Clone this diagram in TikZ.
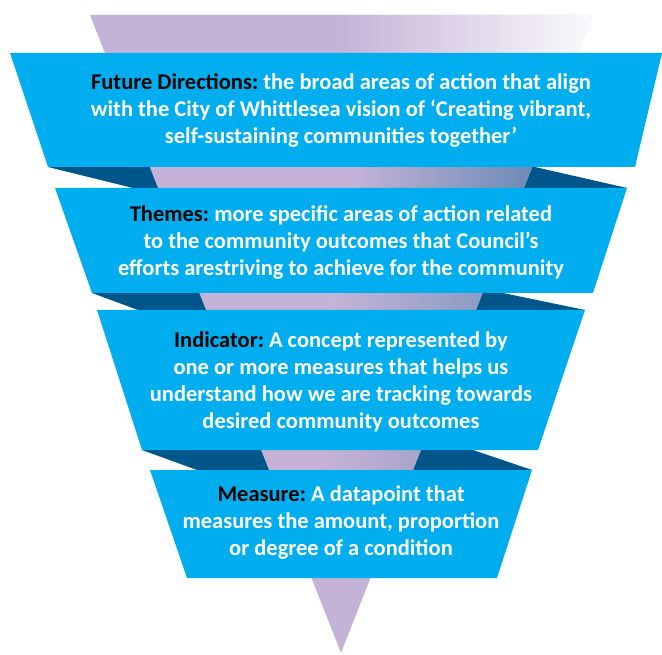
\documentclass[tikz,border=0pt]{standalone}
\usepackage{fontspec}
\setmainfont{Carlito}
\definecolor{bandblue}{HTML}{00AEEF}
\definecolor{folddark}{HTML}{00558B}
\definecolor{lav}{HTML}{C5B3D7}
\definecolor{steelA}{HTML}{6B89B4}
\definecolor{steelB}{HTML}{8B9CC3}
\definecolor{steelC}{HTML}{A9A4CA}
\definecolor{labelblack}{HTML}{050505}
\begin{document}
\frenchspacing
\begin{tikzpicture}[x=1pt,y=-1pt,
  band/.style={fill=bandblue},
  fold/.style={fill=folddark},
  lbl/.style={font=\bfseries\fontsize{22.5}{27}\selectfont, text=white, align=center, inner sep=0pt}]
\useasboundingbox (0,0) rectangle (662,655);
% folds behind the bands
\fill[fold] (48,167) -- (200,167) -- (200,188) -- (133,188) -- cycle;
\fill[fold] (480,167) -- (535,167) -- (627,188) -- (480,188) -- cycle;
\fill[fold] (92,293) -- (240,293) -- (240,310) -- (138,310) -- cycle;
\fill[fold] (460,293) -- (503,293) -- (585,310) -- (460,310) -- cycle;
\fill[fold] (142,450) -- (290,450) -- (290,470) -- (197,470) -- cycle;
\fill[fold] (400,450) -- (473,450) -- (532,470) -- (400,470) -- cycle;
% funnel
\coordinate (tl) at (90,15);
\coordinate (tr) at (592,15);
\coordinate (apex) at (341,653);
\fill[lav] (tl) -- (tr) -- (apex) -- cycle;
\begin{scope}
  \clip (tl) -- (tr) -- (apex) -- cycle;
  \shade[left color=lav, right color=white!94!lav] (340,10) rectangle (594,60);
  \shade[left color=lav, right color=steelA] (350,160) rectangle (536,195);
  \shade[left color=lav, right color=steelB] (330,288) rectangle (484,315);
  \shade[left color=lav, right color=steelC] (320,445) rectangle (422,475);
\end{scope}
% bands
\fill[band] (10,53) -- (662,53) -- (635,167) -- (48,167) -- cycle;
\fill[band] (55,188) -- (627,188) -- (593,293) -- (92,293) -- cycle;
\fill[band] (97,310) -- (585,310) -- (538,450) -- (142,450) -- cycle;
\fill[band] (150,470) -- (532,470) -- (497,578) -- (187,578) -- cycle;
% texts
\node[lbl] (fd) at (341,110) {\textcolor{labelblack}{Future Directions:} the broad areas of action that align\\with the City of Whittlesea vision of ‘Creating vibrant,\\self-sustaining communities together’};
\node[lbl] (th) at (341,242.5) {\textcolor{labelblack}{Themes:} more specific areas of action related\\to the community outcomes that Council’s\\efforts arestriving to achieve for the community};
\node[lbl] (ind) at (341,382) {\textcolor{labelblack}{Indicator:} A concept represented by\\one or more measures that helps us\\understand how we are tracking towards\\desired community outcomes};
\node[lbl] (me) at (341,523) {\textcolor{labelblack}{Measure:} A datapoint that\\measures the amount, proportion\\or degree of a condition};
\end{tikzpicture}
\end{document}
